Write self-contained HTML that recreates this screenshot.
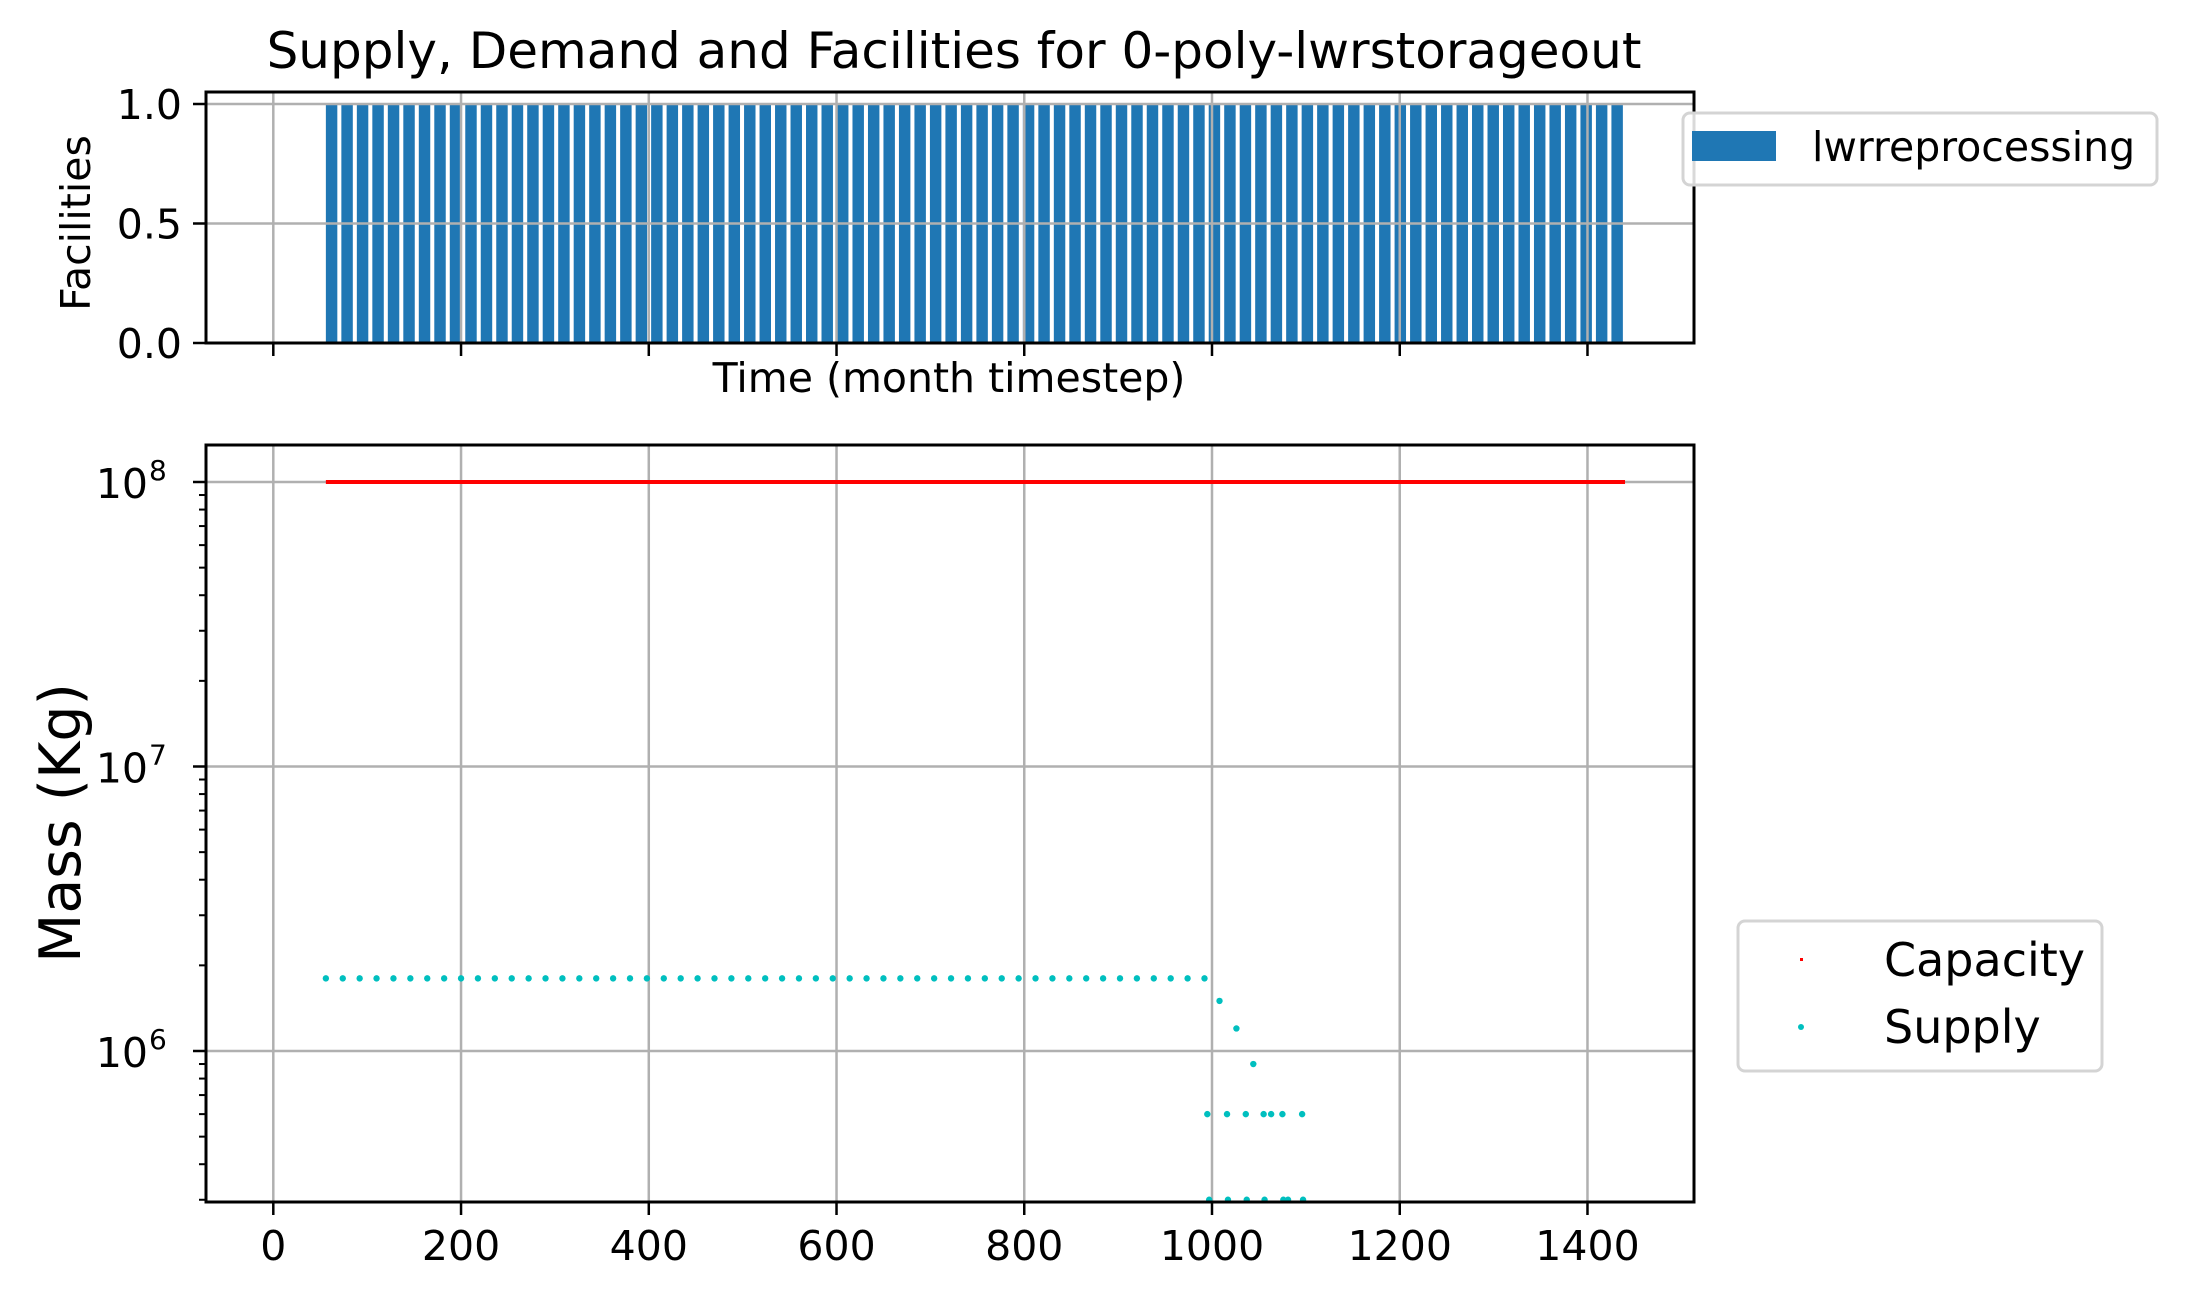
<!DOCTYPE html>
<html><head><meta charset="utf-8"><style>
html,body{margin:0;padding:0;background:#fff;}
svg{display:block;}
text{font-family:"DejaVu Sans","Liberation Sans",sans-serif;fill:#000;}
</style></head><body>
<svg id="chart" width="2186" height="1300" viewBox="0 0 2186 1300" xmlns="http://www.w3.org/2000/svg"></svg>
<script>
// ---- data ----
const barTimes = [56,72.5,89,105.5,122,138.5,155,171.5,188,204.5,221,237.5,254,270.5,287,303.5,320,336.5,353,369.5,386,402.5,419,435.5,452,468.5,485,501.5,518,534.5,551,567.5,584,600.5,617,633.5,650,666.5,683,699.5,716,732.5,749,765.5,782,798.5,815,831.5,848,864.5,881,897.5,914,930.5,947,963.5,980,996.5,1013,1029.5,1046,1062.5,1079,1095.5,1112,1128.5,1145,1161.5,1178,1194.5,1211,1227.5,1244,1260.5,1277,1293.5,1310,1326.5,1343,1359.5,1376,1392.5,1409,1425.5];
const barCounts = [1,1,1,1,1,1,1,1,1,1,1,1,1,1,1,1,1,1,1,1,1,1,1,1,1,1,1,1,1,1,1,1,1,1,1,1,1,1,1,1,1,1,1,1,1,1,1,1,1,1,1,1,1,1,1,1,1,1,1,1,1,1,1,1,1,1,1,1,1,1,1,1,1,1,1,1,1,1,1,1,1,1,1,1];
const capacityTimes = [56,1440];
const capacityValues = [1e8,1e8];
const supplyTimes = [56,74,92,110,128,146,164,182,200,218,236,254,272,290,308,326,344,362,380,398,416,434,452,470,488,506,524,542,560,578,596,614,632,650,668,686,704,722,740,758,776,794,812,830,848,866,884,902,920,938,956,974,992,1008,1026,1044,995,1016,1036,1055,1063,1075,1096,997,1017,1037,1056,1076,1081,1097];
const supplyValues = [1.8e6,1.8e6,1.8e6,1.8e6,1.8e6,1.8e6,1.8e6,1.8e6,1.8e6,1.8e6,1.8e6,1.8e6,1.8e6,1.8e6,1.8e6,1.8e6,1.8e6,1.8e6,1.8e6,1.8e6,1.8e6,1.8e6,1.8e6,1.8e6,1.8e6,1.8e6,1.8e6,1.8e6,1.8e6,1.8e6,1.8e6,1.8e6,1.8e6,1.8e6,1.8e6,1.8e6,1.8e6,1.8e6,1.8e6,1.8e6,1.8e6,1.8e6,1.8e6,1.8e6,1.8e6,1.8e6,1.8e6,1.8e6,1.8e6,1.8e6,1.8e6,1.8e6,1.8e6,1.5e6,1.2e6,9e5,6e5,6e5,6e5,6e5,6e5,6e5,6e5,3e5,3e5,3e5,3e5,3e5,3e5,3e5];
const xTicks = [0,200,400,600,800,1000,1200,1400];
const topYTicks = [0,0.5,1.0];
const topYTickLabels = ["0.0","0.5","1.0"];
const logYTicks = [6,7,8];

// ---- geometry ----
const NS = "http://www.w3.org/2000/svg";
const svgEl = document.getElementById('chart');
const L = 206, R = 1694;
const T1 = 92, B1 = 343;
const T2 = 445, B2 = 1202;
const X0 = 273.3, XS = 0.9387;
const SX = 1;
function xs(v){ return X0 + v*XS; }
function y1(v){ return B1 - v*239; }
function y2(v){ return 1051 - (Math.log10(v)-6)*284.5; }
function el(tag, attrs, parent){ const e=document.createElementNS(NS,tag); for(const k in attrs) e.setAttribute(k,attrs[k]); (parent||svgEl).appendChild(e); return e; }
function txt(str,x,y,size,anchor,rot,parent){
  const g = el('g',{transform:`translate(${x},${y}) rotate(${rot||0}) scale(${rot?1:SX},${rot?SX:1})`},parent);
  const t = el('text',{x:0,y:0,'font-size':size,'text-anchor':anchor||'start'},g);
  t.textContent = str; return t;
}

// title
const titleEl = txt("Supply, Demand and Facilities for 0-poly-lwrstorageout",954,68,50,'middle');



// ---- top axes ----
const topAx = el('g',{});


const topClip = el('clipPath',{id:'c1'}); el('rect',{x:L,y:T1,width:R-L,height:B1-T1},topClip);
const bars = el('g',{'clip-path':'url(#c1)'},topAx);


barTimes.forEach((t,i)=>{
  const r = el('rect',{x:xs(t),y:y1(barCounts[i]),width:12.2*XS,height:y1(0)-y1(barCounts[i]),fill:'#1f77b4'},bars);
  
  
});
xTicks.forEach(v=>{
  const g = el('line',{x1:xs(v),x2:xs(v),y1:T1,y2:B1,stroke:'#b0b0b0','stroke-width':2.5},topAx);
  
  
  el('line',{x1:xs(v),x2:xs(v),y1:B1,y2:B1+13,stroke:'#000','stroke-width':2.5},topAx);
});
topYTicks.forEach((v,i)=>{
  const g = el('line',{x1:L,x2:R,y1:y1(v),y2:y1(v),stroke:'#b0b0b0','stroke-width':2.5},topAx);
  
  
  el('line',{x1:L-13,x2:L,y1:y1(v),y2:y1(v),stroke:'#000','stroke-width':2.5},topAx);
  const t = txt(topYTickLabels[i],182,y1(v)+15,41,'end',0,topAx);
  
  
});
el('rect',{x:L,y:T1,width:R-L,height:B1-T1,fill:'none',stroke:'#000','stroke-width':3},topAx);
const fl = txt("Facilities",90,223,41,'middle',-90,topAx);


const tl = txt("Time (month timestep)",949,392,41,'middle',0,topAx);



// legend 1
const leg1 = el('g',{});


el('rect',{x:1683,y:113,width:474,height:72,rx:7,fill:'rgba(255,255,255,0.85)',stroke:'#d4d4d4','stroke-width':3},leg1);
el('rect',{x:1692,y:131,width:84,height:30,fill:'#1f77b4'},leg1);
const l1t = txt("lwrreprocessing",1812,161,41,'start',0,leg1);



// ---- bottom axes ----
const botAx = el('g',{});


const c2 = el('clipPath',{id:'c2'}); el('rect',{x:L,y:T2,width:R-L,height:B2-T2+4},c2);
xTicks.forEach(v=>{
  const g = el('line',{x1:xs(v),x2:xs(v),y1:T2,y2:B2,stroke:'#b0b0b0','stroke-width':2.5},botAx);
  
  
  el('line',{x1:xs(v),x2:xs(v),y1:B2,y2:B2+13,stroke:'#000','stroke-width':2.5},botAx);
  const t = txt(String(v),xs(v),1260,41,'middle',0,botAx);
  
  
});
logYTicks.forEach(p=>{
  const y = y2(Math.pow(10,p));
  const g = el('line',{x1:L,x2:R,y1:y,y2:y,stroke:'#b0b0b0','stroke-width':2.5},botAx);
  
  
  el('line',{x1:L-13,x2:L,y1:y,y2:y,stroke:'#000','stroke-width':2.5},botAx);
  const t = txt("10",148,y+16,41,'end',0,botAx);
  
  
  txt(String(p),149,y-2,28,'start',0,botAx);
});
for(let p=5;p<=8;p++){ for(let m=2;m<=9;m++){
  const y = y2(m*Math.pow(10,p));
  if(y>T2 && y<B2) el('line',{x1:L-7,x2:L,y1:y,y2:y,stroke:'#000','stroke-width':2},botAx);
}}
const plotG = el('g',{'clip-path':'url(#c2)'},botAx);
const cap = el('polyline',{points:capacityTimes.map((t,i)=>xs(t)+','+y2(capacityValues[i])).join(' '),fill:'none',stroke:'#ff0000','stroke-width':4},plotG);


const sup = el('g',{fill:'#00bfbf'},plotG);


supplyTimes.forEach((t,i)=>{
  const c = el('circle',{cx:xs(t),cy:y2(supplyValues[i]),r:3.2},sup);
  
  
});
el('rect',{x:L,y:T2,width:R-L,height:B2-T2,fill:'none',stroke:'#000','stroke-width':3},botAx);
const ml = txt("Mass (Kg)",80,823,57,'middle',-90,botAx);



// legend 2
const leg2 = el('g',{});


el('rect',{x:1738,y:921,width:364,height:150,rx:7,fill:'rgba(255,255,255,0.85)',stroke:'#d4d4d4','stroke-width':3},leg2);
el('rect',{x:1800,y:958,width:3,height:3,fill:'#ff0000'},leg2);
el('circle',{cx:1801,cy:1027,r:3,fill:'#00bfbf'},leg2);
const lc = txt("Capacity",1884,976,46,'start',0,leg2);


const ls = txt("Supply",1884,1043,46,'start',0,leg2);


</script>
</body></html>
